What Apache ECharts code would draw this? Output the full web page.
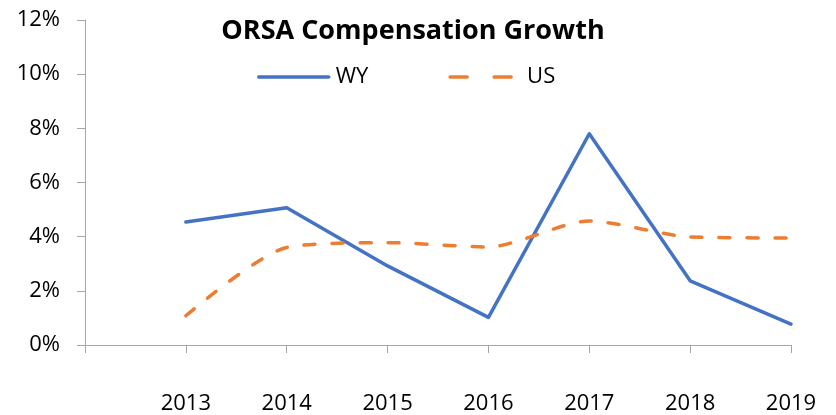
<!DOCTYPE html>
<html>
<head>
<meta charset="utf-8">
<script src="https://cdn.jsdelivr.net/npm/echarts@6/dist/echarts.min.js"></script>
<style>
  html, body { margin: 0; padding: 0; background: #fff; }
  #chart { width: 836px; height: 415px; }
</style>
</head>
<body>
<div id="chart"></div>
<script>
  // first slot is an empty category so the axis starts one step before 2013
  var years = ['', '2013', '2014', '2015', '2016', '2017', '2018', '2019'];
  var wyGrowth = [null, 4.54, 5.07, 2.92, 1.02, 7.80, 2.37, 0.77];
  var usGrowth = [null, 1.08, 3.60, 3.78, 3.62, 4.58, 3.99, 3.95];
  var yTicks = [0, 2, 4, 6, 8, 10, 12];

  var font = '"Open Sans", sans-serif';
  var dash = [11, 17];
  var chart = echarts.init(document.getElementById('chart'));

  var option = {
    backgroundColor: '#fff',
    animation: false,
    title: {
      text: 'ORSA Compensation Growth',
      left: 408,
      textAlign: 'center',
      top: 13,
      textStyle: { fontFamily: font, fontWeight: 'bold', fontSize: 27, color: '#000' }
    },
    legend: {
      top: 61,
      left: 252,
      itemWidth: 70,
      itemHeight: 12,
      itemGap: 80,
      itemStyle: { opacity: 0 },
      textStyle: { fontFamily: font, fontSize: 22, color: '#000', padding: [0, 0, 0, 2] },
      data: [
        { name: 'WY', lineStyle: { width: 3.5 } },
        { name: 'US', lineStyle: { width: 3.5, type: [17, 27], cap: 'round' } }
      ]
    },
    grid: { left: 85, right: 45, top: 20, bottom: 69 },
    xAxis: {
      type: 'category',
      data: years,
      boundaryGap: false,
      axisLine: { lineStyle: { color: '#a6a6a6', width: 1 } },
      axisTick: { interval: 0, length: 8, lineStyle: { color: '#a6a6a6' } },
      axisLabel: { interval: 0, margin: 48, fontFamily: font, fontSize: 22, color: '#000' },
      splitLine: { show: false }
    },
    yAxis: {
      type: 'value',
      min: yTicks[0],
      max: yTicks[yTicks.length - 1],
      interval: 2,
      axisLine: { show: true, lineStyle: { color: '#a6a6a6', width: 1 } },
      axisTick: { show: true, length: 8, lineStyle: { color: '#a6a6a6' } },
      axisLabel: { margin: 25, fontFamily: font, fontSize: 22, color: '#000', formatter: '{value}%' },
      splitLine: { show: false }
    },
    series: [
      {
        name: 'WY',
        type: 'line',
        data: wyGrowth,
        symbol: 'none',
        lineStyle: { color: '#4472c4', width: 3.5, cap: 'round', join: 'round' },
        itemStyle: { color: '#4472c4' }
      },
      {
        name: 'US',
        type: 'line',
        data: usGrowth,
        symbol: 'none',
        smooth: 0.25,
        lineStyle: { color: '#ed7d31', width: 3.5, type: dash, cap: 'round' },
        itemStyle: { color: '#ed7d31' }
      }
    ]
  };

  chart.setOption(option);
</script>
</body>
</html>
